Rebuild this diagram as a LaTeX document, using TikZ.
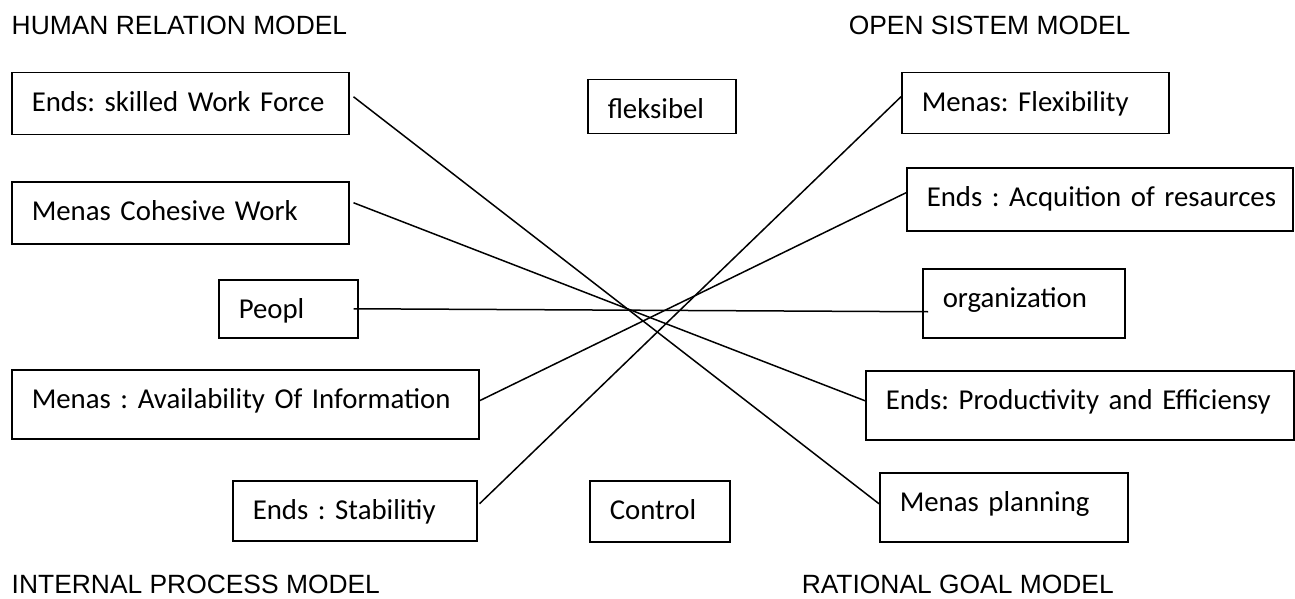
\documentclass[tikz,border=0pt]{standalone}
\usepackage{fontspec}
\setmainfont{Carlito}
\newfontfamily\headfont{Liberation Sans}

\begin{document}
\begin{tikzpicture}[%
    x=1pt, y=-1pt,              % Work top-down, one unit per pixel
    line width=1.5pt,           % Same pen for boxes and links
    ]
% -------------------------------------------------
% Box and heading styles
% text height fixes the baseline, text depth gives the rest of the box;
% the \hbox keeps every label on one line
\tikzset{
  box/.style={draw, rectangle, anchor=north west, align=left,
    inner xsep=20pt, inner ysep=0pt, text height=39pt,
    font=\fontsize{28.8}{34}\selectfont\frenchspacing,
    execute at begin node=\hbox\bgroup,
    execute at end node=\egroup},
  head/.style={anchor=base west, inner sep=0pt,
    font=\headfont\fontsize{26.4}{32}\selectfont},
  link/.style={draw}
}
\useasboundingbox (0,0) rectangle (1295,599);
% -------------------------------------------------
% Headings of the four quadrants
\node [head] (hrm) at (11,35)   {HUMAN RELATION MODEL};
\node [head] (osm) at (848,35)  {OPEN SISTEM MODEL};
\node [head] (ipm) at (11,593)  {INTERNAL PROCESS MODEL};
\node [head] (rgm) at (801,593) {RATIONAL GOAL MODEL};

% Left column
\node [box, text width=297pt, text depth=23pt] (skilled) at (11,72)
  {Ends: skilled Work Force};
\node [box, text width=297pt, text depth=23pt] (cohesive) at (11,181)
  {Menas Cohesive Work};
\node [box, text width=99pt, text depth=19pt] (peopl) at (218,279)
  {Peopl};
\node [box, text width=427pt, text depth=30pt] (avail) at (11,369)
  {Menas : Availability Of Information};
\node [box, text width=204pt, text depth=21pt] (stab) at (232,480)
  {Ends : Stabilitiy};

% Middle
\node [box, text width=108pt, text depth=15pt] (flek) at (587,79)
  {fleksibel};
\node [box, text width=100pt, text depth=22pt] (control) at (589,480)
  {Control};

% Right column
\node [box, text width=227pt, text depth=22pt] (flex) at (901,72)
  {Menas: Flexibility};
\node [box, text width=346pt, text depth=24pt] (acq) at (906,167)
  {Ends : Acquition of resaurces};
\node [box, text width=162pt, text depth=30pt] (org) at (922,268)
  {organization};
\node [box, text width=388pt, text depth=30pt] (prod) at (865,370)
  {Ends: Productivity and Efficiensy};
\node [box, text width=208pt, text depth=30pt] (plan) at (879,472)
  {Menas planning};

% -------------------------------------------------
% Crossing links
\draw [link] ([xshift=4pt, yshift=7pt]skilled.east)
  -- ([yshift=3.5pt]plan.west);
\draw [link] ([xshift=4pt, yshift=10pt]cohesive.east)
  -- ([yshift=4.5pt]prod.west);
\draw [link] ([xshift=-5pt]peopl.east)
  -- ([xshift=6pt, yshift=-8.5pt]org.west);
\draw [link] ([yshift=3.5pt]avail.east)
  -- ([yshift=6.5pt]acq.west);
\draw [link] ([xshift=2pt, yshift=7pt]stab.east)
  -- ([yshift=6.5pt]flex.west);

% -------------------------------------------------
\end{tikzpicture}
\end{document}
